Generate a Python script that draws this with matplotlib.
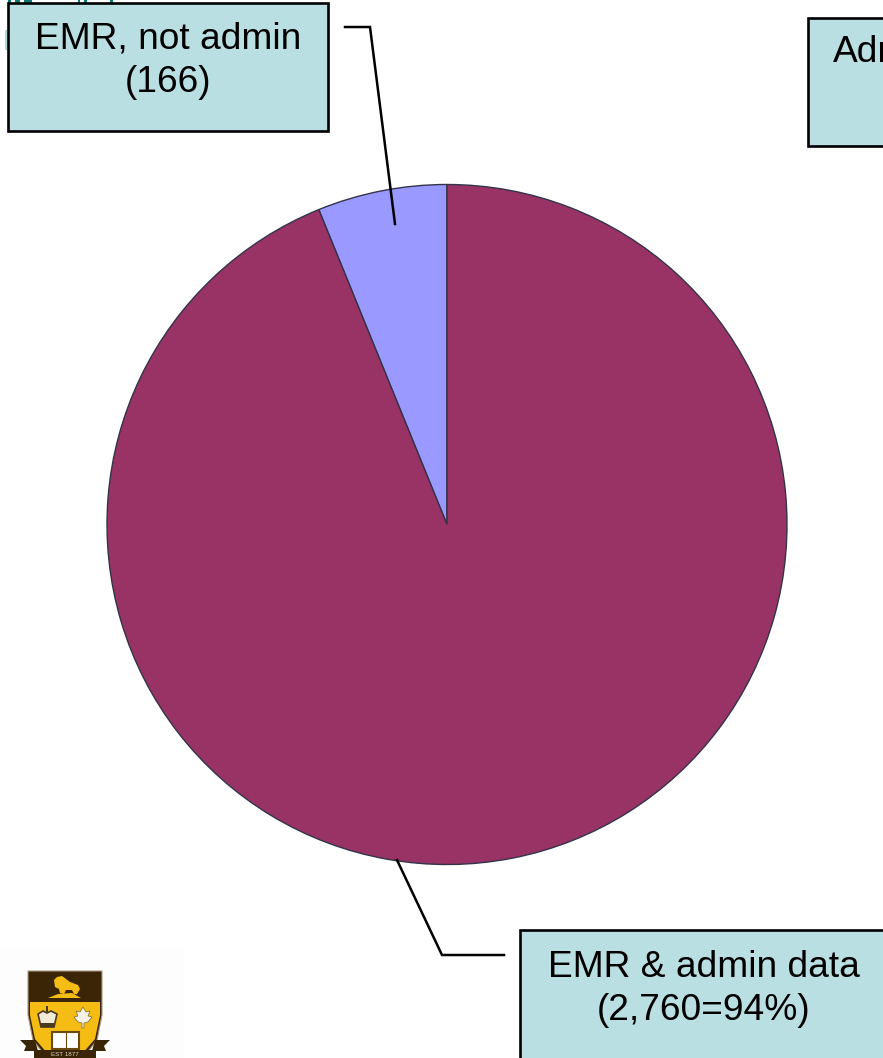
import matplotlib
matplotlib.use('Agg')
import matplotlib.pyplot as plt
from matplotlib.patches import Rectangle, Polygon

plt.rcParams['font.family'] = ['Liberation Sans', 'DejaVu Sans']

# slice sizes (the small slice spans about 22 deg)
slice_names = ['EMR, not admin', 'EMR & admin data']
slice_values = [181, 2760]
slice_colors = ['#9999ff', '#993366']

box_labels = ['EMR, not admin\n(166)', 'EMR & admin data\n(2,760=94%)', 'Adm']

H = 1058

def fy(y):
    return H - y

def poly(points, **kw):
    # points are given top-down, like the picture
    ax.add_patch(Polygon([(x, fy(y)) for x, y in points], **kw))

fig = plt.figure(figsize=(8.83, 10.58), dpi=100)
ax = fig.add_axes([0, 0, 1, 1])
ax.set_xlim(0, 883)
ax.set_ylim(0, H)
ax.axis('off')

# pale logo background
ax.add_patch(Rectangle((0, 0), 184, 110, fc='#fdfdfd', ec='none', zorder=0))

# bits of the title hidden behind the first box
for x, w in [(8, 3), (15, 5), (24, 8), (78, 2), (84, 3), (110, 3)]:
    ax.add_patch(Rectangle((x, fy(3)), w, 3, fc='#0b7a75', ec='none', zorder=1))
ax.add_patch(Rectangle((5, fy(50)), 2, 20, fc='#b5d5d3', ec='none', zorder=1))

wedges, _ = ax.pie(slice_values, colors=slice_colors, startangle=90, counterclock=True,
                   center=(447, fy(524.5)), radius=340, frame=True,
                   wedgeprops={'edgecolor': '#33334a', 'linewidth': 1.0})
ax.set_xlim(0, 883)
ax.set_ylim(0, H)
ax.set_aspect('auto')
ax.axis('off')

# label boxes
box_fc = '#b9dfe3'
ax.add_patch(Rectangle((8, fy(131)), 320, 128, fc=box_fc, ec='black', lw=1.9, zorder=3))
ax.add_patch(Rectangle((808, fy(146)), 100, 128, fc=box_fc, ec='black', lw=1.9, zorder=3))
ax.add_patch(Rectangle((520, fy(1070)), 400, 140, fc=box_fc, ec='black', lw=1.9, zorder=3))

ax.text(168, fy(61), box_labels[0], ha='center', va='center', fontsize=26.7,
        linespacing=1.33, color='black', zorder=4)
ax.text(704, fy(989), box_labels[1], ha='center', va='center', fontsize=26.7,
        linespacing=1.33, color='black', zorder=4)
ax.text(833, fy(53), box_labels[2], ha='left', va='center', fontsize=26.7,
        color='black', zorder=4)

# leader lines
ax.plot([345, 370, 395], [fy(27), fy(27), fy(224)], color='black', lw=1.8, zorder=5,
        solid_joinstyle='miter')
ax.plot([397, 442, 504], [fy(860), fy(955), fy(955)], color='black', lw=1.8, zorder=5,
        solid_joinstyle='miter')

# crest
brown = '#3b2507'
gold = '#f5bd13'
poly([(28, 971), (102, 971), (102, 1015), (97, 1040), (83, 1058), (47, 1058), (33, 1040), (28, 1015)],
     fc=brown, ec='#a89a84', lw=0.8, zorder=2)
poly([(30, 1002), (100, 1002), (100, 1015), (95, 1039), (82, 1054), (48, 1054), (35, 1039), (30, 1015)],
     fc=gold, ec='none', zorder=2)
# bison and mound
poly([(48, 998), (58, 994), (72, 993), (81, 998)], fc=gold, ec='none', zorder=3)
poly([(54, 980), (57, 977), (62, 976), (70, 982), (78, 985), (80, 989), (77, 994), (74, 994),
      (72, 990), (66, 990), (64, 994), (60, 993), (59, 989), (55, 987)],
     fc=gold, ec='none', zorder=3)
# crown
ax.add_patch(Rectangle((46.4, fy(1014)), 1.6, 8, fc='#4a3a20', ec='none', zorder=3))
poly([(38, 1014), (43, 1011), (47, 1013), (51, 1011), (57, 1014), (54, 1027), (41, 1027)],
     fc='#f1ead6', ec='#4a3a20', lw=1.2, zorder=3)
ax.add_patch(Rectangle((41, fy(1027)), 13, 4, fc='#4a3a20', ec='none', zorder=4))
# maple leaf
poly([(83, 1007), (86, 1012), (90, 1011), (88, 1016), (92, 1017), (88, 1022), (84, 1023),
      (84, 1028), (82, 1028), (82, 1023), (78, 1022), (74, 1017), (78, 1016), (76, 1011), (80, 1012)],
     fc='#f4f1e6', ec='#7a6a30', lw=0.5, zorder=3)
# open book
ax.add_patch(Rectangle((52, fy(1049)), 27, 17, fc='white', ec='#6b4a10', lw=1.5, zorder=3))
ax.plot([65.5, 65.5], [fy(1048), fy(1033)], color='#6b4a10', lw=0.8, zorder=4)
# ribbon
poly([(20, 1040), (35, 1040), (38, 1051), (24, 1051), (26, 1046)], fc=brown, ec='none', zorder=2)
poly([(110, 1040), (95, 1040), (92, 1051), (106, 1051), (104, 1046)], fc=brown, ec='none', zorder=2)
ax.add_patch(Rectangle((34, 0), 62, 8, fc=brown, ec='none', zorder=4))
ax.text(65, 3, 'EST 1877', ha='center', va='center', fontsize=4.5, color='#d8d0c0', zorder=5)

fig.savefig('out.png', dpi=100)
